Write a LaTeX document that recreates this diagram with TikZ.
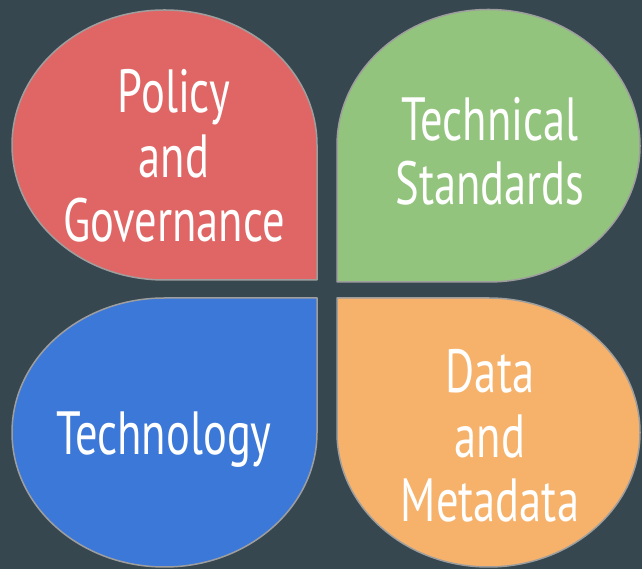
\documentclass[tikz,border=0pt]{standalone}
\usepackage{fontspec}
\setmainfont{PT Sans}[FakeStretch=0.73]
\definecolor{bgc}{HTML}{37474F}
\definecolor{redc}{HTML}{E06666}
\definecolor{greenc}{HTML}{93C47D}
\definecolor{bluec}{HTML}{3C78D8}
\definecolor{orangec}{HTML}{F6B26B}
\definecolor{edgec}{HTML}{9E9E9E}
\tikzset{
  petal/.style={draw=edgec, line width=1.5pt, line join=round},
  lbl/.style={text=white, font=\fontsize{61}{64.5}\selectfont, align=center, inner sep=0pt, anchor=base}
}
\begin{document}
\begin{tikzpicture}[x=1pt,y=1pt]
\fill[bgc] (0,0) rectangle (642,569);
\useasboundingbox (0,0) rectangle (642,569);
% red (top-left), sharp corner bottom-right
\draw[petal, fill=redc] (317,289) -- (317,424)
  arc[start angle=0, end angle=180, x radius=152.5, y radius=135]
  arc[start angle=180, end angle=270, x radius=152.5, y radius=135] -- cycle;
% green (top-right), sharp corner bottom-left
\draw[petal, fill=greenc] (337,287) -- (337,423.25)
  arc[start angle=180, end angle=0, x radius=151.5, y radius=136.25]
  arc[start angle=0, end angle=-90, x radius=151.5, y radius=136.25] -- cycle;
% blue (bottom-left), sharp corner top-right
\draw[petal, fill=bluec] (317,271) -- (164.5,271)
  arc[start angle=90, end angle=270, x radius=152.5, y radius=134.5]
  arc[start angle=270, end angle=360, x radius=152.5, y radius=134.5] -- cycle;
% orange (bottom-right), sharp corner top-left
\draw[petal, fill=orangec] (337,271) -- (488.5,271)
  arc[start angle=90, end angle=-90, x radius=151.5, y radius=134.5]
  arc[start angle=270, end angle=180, x radius=151.5, y radius=134.5] -- cycle;
\node[lbl] (pg) at (174,327) {Policy\\and\\Governance};
\node[lbl] (ts) at (490,364) {Technical\\Standards};
\node[lbl] (te) at (164,114) {Technology};
\node[lbl] (dm) at (490,47) {Data\\and\\Metadata};
\end{tikzpicture}
\end{document}
